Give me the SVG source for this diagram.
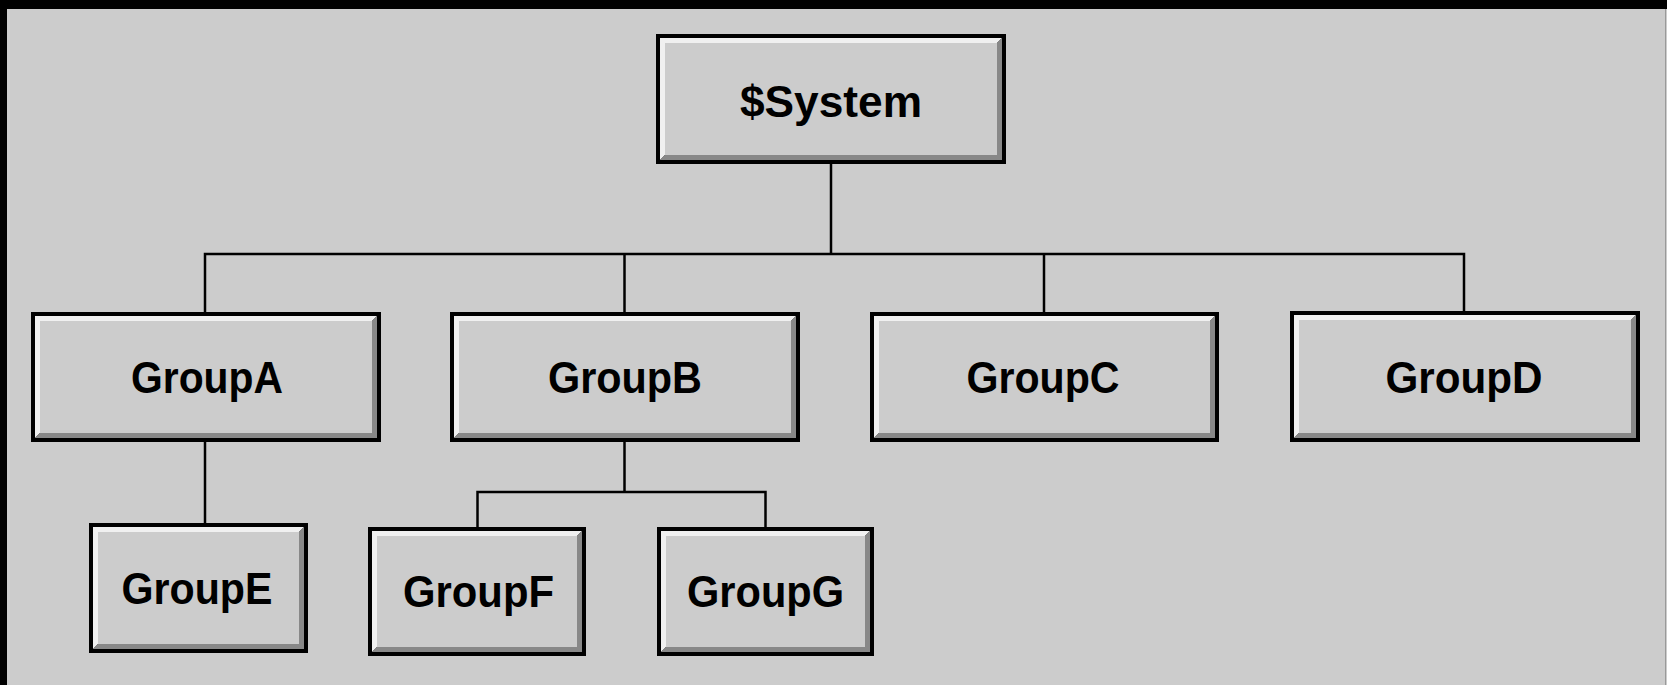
<svg xmlns="http://www.w3.org/2000/svg" width="1667" height="685" viewBox="0 0 1667 685">
<style>
.bg{fill:#cccccc}
.frame{fill:#000000}
.border{fill:#000000}
.hi{fill:#f0f0f0}
.sh{fill:#888888}
.face{fill:#cccccc}
.lbl{font-family:"Liberation Sans",Arial,sans-serif;font-weight:bold;font-size:44px;fill:#000000;text-anchor:middle}
.conn{stroke:#000000;stroke-width:2.5;fill:none}
</style>
<rect class="bg" x="0" y="0" width="1667" height="685"/>
<rect class="frame" x="0" y="0" width="1667" height="9"/>
<rect class="frame" x="0" y="0" width="7" height="685"/>
<rect x="1665" y="9" width="1" height="676" fill="#999999"/>

<g id="connectors">
<path class="conn" d="M831,164 V254"/>
<path class="conn" d="M205,312 V254 H1464 V312"/>
<path class="conn" d="M624.5,254 V312"/>
<path class="conn" d="M1044,254 V312"/>
<path class="conn" d="M205,442 V523"/>
<path class="conn" d="M624.5,441 V492"/>
<path class="conn" d="M477.5,527 V492 H765.5 V527"/>
</g>

<g id="node-system">
<rect class="border" x="656" y="34" width="350" height="130"/>
<polygon class="hi" points="660,38 1002,38 997,43 665,43 665,155 660,160"/>
<polygon class="sh" points="1002,38 1002,160 660,160 665,155 997,155 997,43"/>
<rect class="face" x="665" y="43" width="332" height="112"/>
<text class="lbl" x="831" y="117" textLength="182" lengthAdjust="spacingAndGlyphs">$System</text>
</g>

<g id="node-groupA">
<rect class="border" x="31" y="312" width="350" height="130"/>
<polygon class="hi" points="35,316 377,316 372,321 40,321 40,433 35,438"/>
<polygon class="sh" points="377,316 377,438 35,438 40,433 372,433 372,321"/>
<rect class="face" x="40" y="321" width="332" height="112"/>
<text class="lbl" x="207" y="393" textLength="152" lengthAdjust="spacingAndGlyphs">GroupA</text>
</g>

<g id="node-groupB">
<rect class="border" x="450" y="312" width="350" height="130"/>
<polygon class="hi" points="454,316 796,316 791,321 459,321 459,433 454,438"/>
<polygon class="sh" points="796,316 796,438 454,438 459,433 791,433 791,321"/>
<rect class="face" x="459" y="321" width="332" height="112"/>
<text class="lbl" x="625" y="393" textLength="154" lengthAdjust="spacingAndGlyphs">GroupB</text>
</g>

<g id="node-groupC">
<rect class="border" x="870" y="312" width="349" height="130"/>
<polygon class="hi" points="874,316 1215,316 1210,321 879,321 879,433 874,438"/>
<polygon class="sh" points="1215,316 1215,438 874,438 879,433 1210,433 1210,321"/>
<rect class="face" x="879" y="321" width="331" height="112"/>
<text class="lbl" x="1043" y="393" textLength="153" lengthAdjust="spacingAndGlyphs">GroupC</text>
</g>

<g id="node-groupD">
<rect class="border" x="1290" y="311" width="350" height="131"/>
<polygon class="hi" points="1294,315 1636,315 1631,320 1299,320 1299,433 1294,438"/>
<polygon class="sh" points="1636,315 1636,438 1294,438 1299,433 1631,433 1631,320"/>
<rect class="face" x="1299" y="320" width="332" height="113"/>
<text class="lbl" x="1464" y="393" textLength="157" lengthAdjust="spacingAndGlyphs">GroupD</text>
</g>

<g id="node-groupE">
<rect class="border" x="89" y="523" width="219" height="130"/>
<polygon class="hi" points="93,527 304,527 299,532 98,532 98,644 93,649"/>
<polygon class="sh" points="304,527 304,649 93,649 98,644 299,644 299,532"/>
<rect class="face" x="98" y="532" width="201" height="112"/>
<text class="lbl" x="197" y="604" textLength="151" lengthAdjust="spacingAndGlyphs">GroupE</text>
</g>

<g id="node-groupF">
<rect class="border" x="368" y="527" width="218" height="129"/>
<polygon class="hi" points="372,531 582,531 577,536 377,536 377,647 372,652"/>
<polygon class="sh" points="582,531 582,652 372,652 377,647 577,647 577,536"/>
<rect class="face" x="377" y="536" width="200" height="111"/>
<text class="lbl" x="478.5" y="607" textLength="151" lengthAdjust="spacingAndGlyphs">GroupF</text>
</g>

<g id="node-groupG">
<rect class="border" x="657" y="527" width="217" height="129"/>
<polygon class="hi" points="661,531 870,531 865,536 666,536 666,647 661,652"/>
<polygon class="sh" points="870,531 870,652 661,652 666,647 865,647 865,536"/>
<rect class="face" x="666" y="536" width="199" height="111"/>
<text class="lbl" x="765.5" y="607" textLength="157" lengthAdjust="spacingAndGlyphs">GroupG</text>
</g>
</svg>
